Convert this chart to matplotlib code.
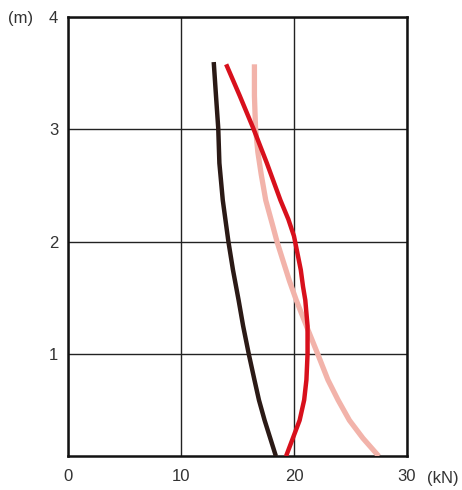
import matplotlib.pyplot as plt

# depth (m) and force (kN)
y_black = [3.60, 3.30, 3.01, 2.70, 2.37, 2.00, 1.75, 1.48, 1.25, 1.00, 0.77, 0.59, 0.41, 0.25, 0.09]
x_black = [12.9, 13.1, 13.3, 13.4, 13.7, 14.2, 14.6, 15.1, 15.5, 16.0, 16.5, 16.9, 17.4, 17.9, 18.4]

y_red = [3.58, 3.30, 3.01, 2.70, 2.37, 2.20, 2.05, 1.90, 1.75, 1.60, 1.48, 1.25, 1.00, 0.77, 0.59, 0.41, 0.25, 0.09]
x_red = [14.0, 15.2, 16.4, 17.6, 18.8, 19.5, 20.0, 20.3, 20.6, 20.8, 21.0, 21.2, 21.2, 21.1, 20.9, 20.5, 19.9, 19.3]

y_pink = [3.58, 3.30, 3.01, 2.80, 2.60, 2.37, 2.15, 2.00, 1.84, 1.65, 1.48, 1.25, 1.00, 0.77, 0.59, 0.41, 0.25, 0.09]
x_pink = [16.5, 16.5, 16.6, 16.8, 17.1, 17.5, 18.1, 18.5, 19.0, 19.6, 20.2, 21.1, 22.1, 23.0, 23.9, 24.9, 26.1, 27.5]

x_ticks = [0, 10, 20, 30]
y_ticks = [1, 2, 3, 4]

plt.rcParams['font.family'] = ['Liberation Sans', 'DejaVu Sans']

fig = plt.figure(figsize=(4.62, 4.9), dpi=100)
ax = fig.add_axes([0.147, 0.069, 0.734, 0.896])

ax.plot(x_pink, y_pink, color='#f2b3aa', lw=3.8, solid_capstyle='butt', zorder=3)
ax.plot(x_black, y_black, color='#2b1a16', lw=3.2, solid_capstyle='butt', zorder=4)
ax.plot(x_red, y_red, color='#d8101c', lw=3.2, solid_capstyle='butt', zorder=5)

ax.set_xlim(0, 30)
ax.set_ylim(0.09, 4)
ax.set_xticks(x_ticks)
ax.set_yticks(y_ticks)
ax.grid(True, color='#222222', lw=1.0)
ax.tick_params(length=0, labelsize=12, colors='#333333', pad=9)
ax.tick_params(axis='y', pad=7)
for s in ax.spines.values():
    s.set_linewidth(1.8)
    s.set_color('#111111')

fig.text(0.018, 0.962, '(m)', fontsize=12, color='#333333', ha='left', va='center')
fig.text(0.925, 0.024, '(kN)', fontsize=12, color='#333333', ha='left', va='center')

fig.savefig('out.png', dpi=100)
